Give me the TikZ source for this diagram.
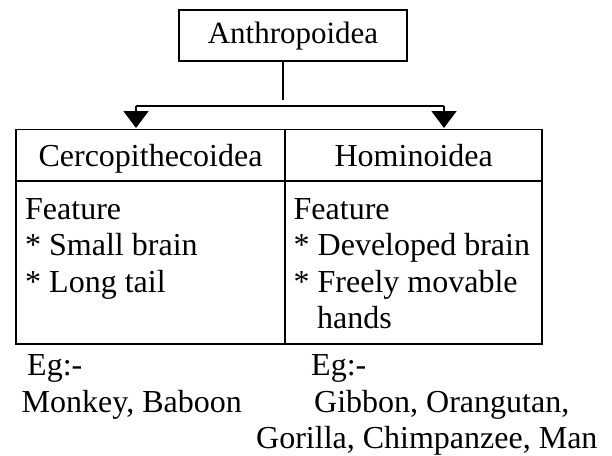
\documentclass[tikz,border=0pt]{standalone}
\usepackage{fontspec}
\setmainfont{Liberation Serif}
\usetikzlibrary{arrows.meta}
\begin{document}
\begin{tikzpicture}[x=1pt,y=-1pt,
  ln/.style={line width=1.6pt},
  txt/.style={inner sep=0pt,anchor=base west,font=\fontsize{32}{34}\selectfont},
  tip/.style={-{Triangle[length=17pt,width=25pt]}}]
\useasboundingbox (0,0) rectangle (612,455);
\node[draw,ln,minimum width=228pt,minimum height=51pt,inner sep=0pt,text height=22pt,text depth=7pt,font=\fontsize{31}{33}\selectfont] (top) at (293,35.5) {Anthropoidea};
\coordinate (stem) at (283,100);
\draw[ln] (top.south -| stem) -- (stem);
\coordinate (la) at (136,106);
\coordinate (ra) at (444,106);
\coordinate (lt) at (136,128);
\coordinate (rt) at (444,128);
\draw[ln] (la) -- (ra);
\draw[ln,tip] (la) -- (lt);
\draw[ln,tip] (ra) -- (rt);
% table
\draw[ln] (16,129.5) rectangle (542,344);
\draw[ln] (285,129.5) -- (285,344);
\draw[ln] (16,181) -- (542,181);
\node[txt,anchor=base] (h1) at (150.5,166) {Cercopithecoidea};
\node[txt,anchor=base] (h2) at (413.7,166) {Hominoidea};
\node[txt] (f1) at (25,219) {Feature};
\node[txt] (f2) at (25,255) {* Small brain};
\node[txt] (f3) at (25,292) {* Long tail};
\node[txt] (g1) at (293.5,219) {Feature};
\node[txt] (g2) at (293.5,255) {* Developed brain};
\node[txt] (g3) at (293.5,292) {* Freely movable};
\node[txt] (g4) at (317,328) {hands};
\node[txt] (e1) at (27,375) {Eg:-};
\node[txt] (e2) at (21.5,412) {Monkey, Baboon};
\node[txt] (e3) at (311,375) {Eg:-};
\node[txt] (e4) at (314,412) {Gibbon, Orangutan,};
\node[txt] (e5) at (256,448) {Gorilla, Chimpanzee, Man};
\end{tikzpicture}
\end{document}
